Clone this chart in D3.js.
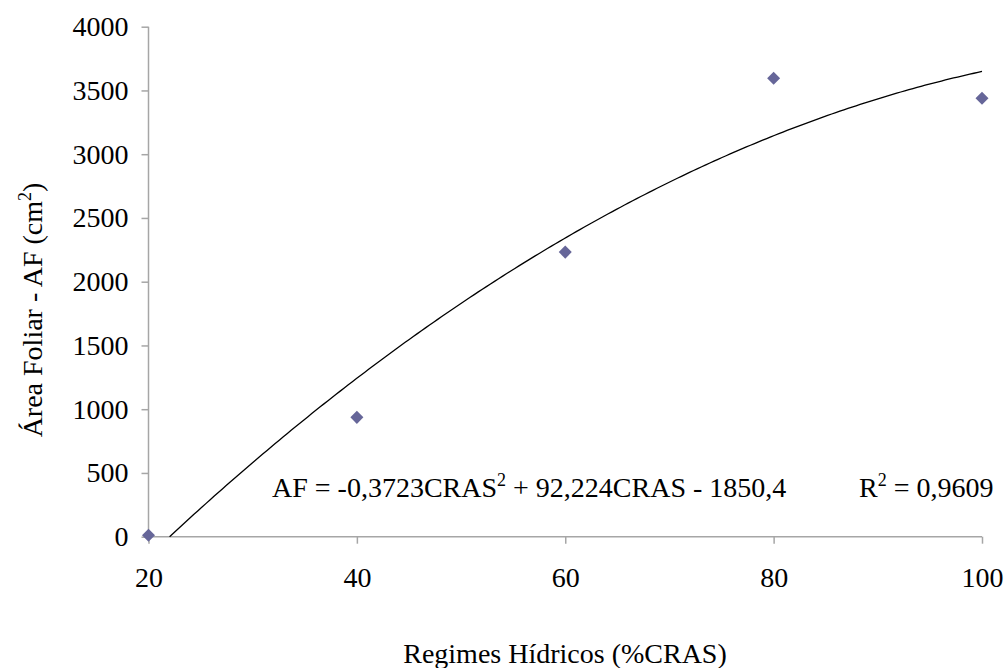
<!DOCTYPE html>
<html>
<head>
<meta charset="utf-8">
<script src="https://cdn.jsdelivr.net/npm/d3@7"></script>
<style>
  html, body { margin: 0; padding: 0; background: #fff; }
  svg { display: block; }
  text { font-family: "Liberation Serif", "Times New Roman", serif; fill: #000; }
</style>
</head>
<body>
<svg id="chart" width="1005" height="668"></svg>
<script>
// Water regime treatments (% CRAS) and measured leaf area (cm²)
const regimes = [20, 40, 60, 80, 100];
const leafArea = [12, 936, 2232, 3595, 3438];

// Tick values for both axes
const xTicks = [20, 40, 60, 80, 100];
const yTicks = [0, 500, 1000, 1500, 2000, 2500, 3000, 3500, 4000];

// Fitted quadratic trendline: AF = a·CRAS² + b·CRAS + c
const coefA = -0.3723, coefB = 92.224, coefC = -1850.4;
const r2 = "0,9609";

const svg = d3.select("#chart");
const fontSize = 28;
const supSize = 18;

const x = d3.scaleLinear().domain([20, 100]).range([148.5, 982]);
const y = d3.scaleLinear().domain([0, 4000]).range([536.7, 26.7]);

const axisColor = "#a6a6a6";

// Y axis
const yAxis = svg.append("g")
  .attr("transform", `translate(${x(20)},0)`)
  .call(d3.axisLeft(y).tickValues(yTicks).tickSize(7).tickPadding(13).tickFormat(d3.format("d")));
// X axis
const xAxis = svg.append("g")
  .attr("transform", `translate(0,${y(0)})`)
  .call(d3.axisBottom(x).tickValues(xTicks).tickSize(7).tickPadding(23).tickFormat(d3.format("d")));

[yAxis, xAxis].forEach(g => {
  g.select(".domain").attr("stroke", axisColor).attr("stroke-width", 1.5);
  g.selectAll(".tick line").attr("stroke", axisColor).attr("stroke-width", 1.5);
  g.selectAll(".tick text")
    .attr("fill", "#000")
    .style("font-family", '"Liberation Serif", "Times New Roman", serif')
    .style("font-size", fontSize + "px");
});
// plain axis lines without the end stubs
yAxis.select(".domain").attr("d", `M0,${y(4000)}V${y(0)}`);
xAxis.select(".domain").attr("d", `M${x(20)},0H${x(100)}`);

// Trendline from its x-intercept up to 100
const root = (-coefB + Math.sqrt(coefB * coefB - 4 * coefA * coefC)) / (2 * coefA);
const trendX = d3.range(0, 201).map(i => root + (100 - root) * i / 200);
const line = d3.line()
  .x(d => x(d))
  .y(d => y(coefA * d * d + coefB * d + coefC));
svg.append("path")
  .datum(trendX)
  .attr("d", line)
  .attr("fill", "none")
  .attr("stroke", "#000")
  .attr("stroke-width", 1.3);

// Data markers (diamonds)
svg.append("g").selectAll("path")
  .data(regimes.map((r, i) => [r, leafArea[i]]))
  .join("path")
  .attr("d", d3.symbol().type(d3.symbolSquare).size(85))
  .attr("transform", d => `translate(${x(d[0])},${y(d[1])}) rotate(45)`)
  .attr("fill", "#666699");

// Regression equation
const eq = svg.append("text")
  .attr("x", 272).attr("y", 497)
  .style("font-size", fontSize + "px");
eq.append("tspan").text("AF = -0,3723CRAS");
eq.append("tspan").text("2").attr("dy", -11).style("font-size", supSize + "px");
eq.append("tspan").text(" + 92,224CRAS - 1850,4").attr("dy", 11);

const rt = svg.append("text")
  .attr("x", 859).attr("y", 497)
  .style("font-size", fontSize + "px");
rt.append("tspan").text("R");
rt.append("tspan").text("2").attr("dy", -11).style("font-size", supSize + "px");
rt.append("tspan").text(" = " + r2).attr("dy", 11);

// Axis titles
svg.append("text")
  .attr("x", 565).attr("y", 663)
  .attr("text-anchor", "middle")
  .style("font-size", fontSize + "px")
  .text("Regimes Hídricos (%CRAS)");

const yt = svg.append("text")
  .attr("transform", "translate(42,310) rotate(-90)")
  .attr("text-anchor", "middle")
  .style("font-size", fontSize + "px");
yt.append("tspan").text("Área Foliar - AF (cm");
yt.append("tspan").text("2").attr("dy", -11).style("font-size", supSize + "px");
yt.append("tspan").text(")").attr("dy", 11);
</script>
</body>
</html>
